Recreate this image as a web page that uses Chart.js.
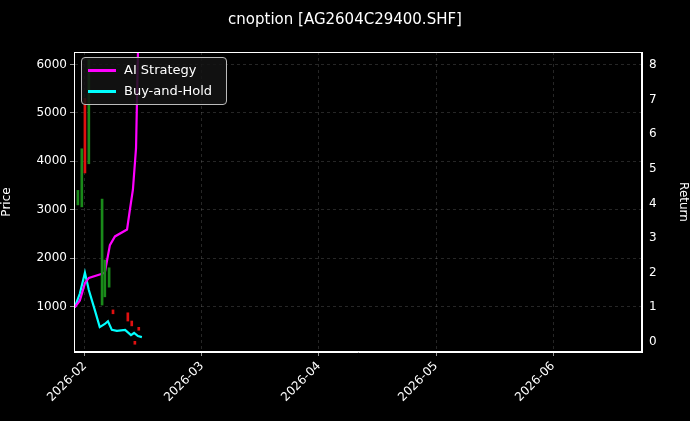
<!DOCTYPE html>
<html><head><meta charset="utf-8">
<script src="https://cdn.jsdelivr.net/npm/chart.js@4"></script>
<style>
html,body{margin:0;padding:0;background:#000;}
#wrap{position:relative;width:690px;height:421px;}
#title{position:absolute;top:10px;left:0;width:690px;text-align:center;color:#fff;font:15px "DejaVu Sans";}
#legend{position:absolute;left:81px;top:57px;width:144px;height:46px;border:1px solid #bbb;border-radius:4px;background:rgba(20,20,20,0.85);color:#fff;font:13px "DejaVu Sans";}
.li{position:absolute;left:6px;height:16px;line-height:16px;}
.sw{display:inline-block;width:28px;height:3px;vertical-align:middle;margin-right:8px;}
</style></head><body>
<div id="wrap"><canvas id="c" width="690" height="421"></canvas>
<div id="title">cnoption [AG2604C29400.SHF]</div>
<div id="legend"><div class="li" style="top:4px"><span class="sw" style="background:#ff00ff"></span>AI Strategy</div>
<div class="li" style="top:25px"><span class="sw" style="background:#00ffff"></span>Buy-and-Hold</div></div>
</div>
<script>
const monthTicks=[0,30,60,90,120];
const monthLabels=['2026-02','2026-03','2026-04','2026-05','2026-06'];
const candleDays=[-1.8,-0.8,0,1,4.4,5.1,6.2,7.2,11,12,12.8,13.8];
const candleLow=[3100,3060,3760,3950,1030,1200,1400,850,700,600,220,510];
const candleHigh=[3400,4260,5300,6100,3220,1960,1800,930,870,700,280,570];
const candleUp=[true,true,false,true,true,true,true,false,false,false,false,false];
const aiDays=[-2.6,-1.3,0,1,3.8,5.1,6.4,7.7,10.8,11.5,12.3,13.1,13.6];
const aiRet=[1.0,1.2,1.7,1.85,1.95,2.0,2.8,3.05,3.25,3.8,4.4,5.6,8.4];
const bhDays=[-2.6,-1.3,0,1,2.6,3.8,5.1,5.9,6.9,8.2,10.3,11.8,12.6,13.6,14.6];
const bhRet=[1.0,1.4,2.0,1.5,0.9,0.43,0.52,0.6,0.35,0.32,0.35,0.2,0.26,0.17,0.14];

const grid={color:'rgba(160,160,160,0.4)',lineWidth:0.6,offset:false,drawTicks:true,tickColor:'#fff',tickLength:4};
const bord={color:'#fff',dash:[3,3]};
const frame={id:'frame',afterDraw(c){const a=c.chartArea,x=c.ctx;x.save();x.strokeStyle='#fff';x.lineWidth=1;x.setLineDash([]);x.strokeRect(a.left+0.5,a.top+0.5,a.right-a.left-1,a.bottom-a.top-1);x.restore();}};
new Chart(document.getElementById('c'),{
 plugins:[frame],
 data:{datasets:[
  {type:'bar',yAxisID:'y',data:candleDays.map((d,i)=>({x:d,y:[candleLow[i],candleHigh[i]]})),
   backgroundColor:candleUp.map(u=>u?'#1a8a1a':'#e01010'),barThickness:2,grouped:false},
  {type:'line',yAxisID:'y1',data:aiDays.map((d,i)=>({x:d,y:aiRet[i]})),borderColor:'#ff00ff',borderWidth:2.2,pointRadius:0,tension:0},
  {type:'line',yAxisID:'y1',data:bhDays.map((d,i)=>({x:d,y:bhRet[i]})),borderColor:'#00ffff',borderWidth:2.2,pointRadius:0,tension:0}
 ]},
 options:{responsive:false,animation:false,
  layout:{padding:{top:52,right:0,left:0,bottom:0}},
  plugins:{legend:{display:false},title:{display:false},tooltip:{enabled:false}},
  scales:{
   x:{type:'linear',min:-2.8,max:142.8,offset:false,grid:grid,border:bord,
     afterBuildTicks:a=>{a.ticks=monthTicks.map(v=>({value:v}));},
     afterFit:a=>{a.height=69;},
     ticks:{color:'#fff',font:{family:'DejaVu Sans',size:12},maxRotation:45,minRotation:45,callback:(v)=>monthLabels[monthTicks.indexOf(v)]}},
   y:{position:'left',min:60,max:6260,grid:grid,border:bord,
     afterBuildTicks:a=>{a.ticks=[1000,2000,3000,4000,5000,6000].map(v=>({value:v}));},
     afterFit:a=>{a.width=74;},
     title:{display:true,text:'Price',color:'#fff',font:{family:'DejaVu Sans',size:12},padding:{top:0,bottom:6}},
     ticks:{color:'#fff',font:{family:'DejaVu Sans',size:12},callback:v=>String(v)}},
   y1:{position:'right',min:-0.29,max:8.38,grid:{display:false,drawTicks:true,tickColor:'#fff',tickLength:4},border:{color:'#fff'},
     afterBuildTicks:a=>{a.ticks=[0,1,2,3,4,5,6,7,8].map(v=>({value:v}));},
     afterFit:a=>{a.width=48;},
     title:{display:true,text:'Return',color:'#fff',font:{family:'DejaVu Sans',size:12},padding:{top:0,bottom:6}},
     ticks:{color:'#fff',font:{family:'DejaVu Sans',size:12}}}
  }}
});
</script></body></html>
